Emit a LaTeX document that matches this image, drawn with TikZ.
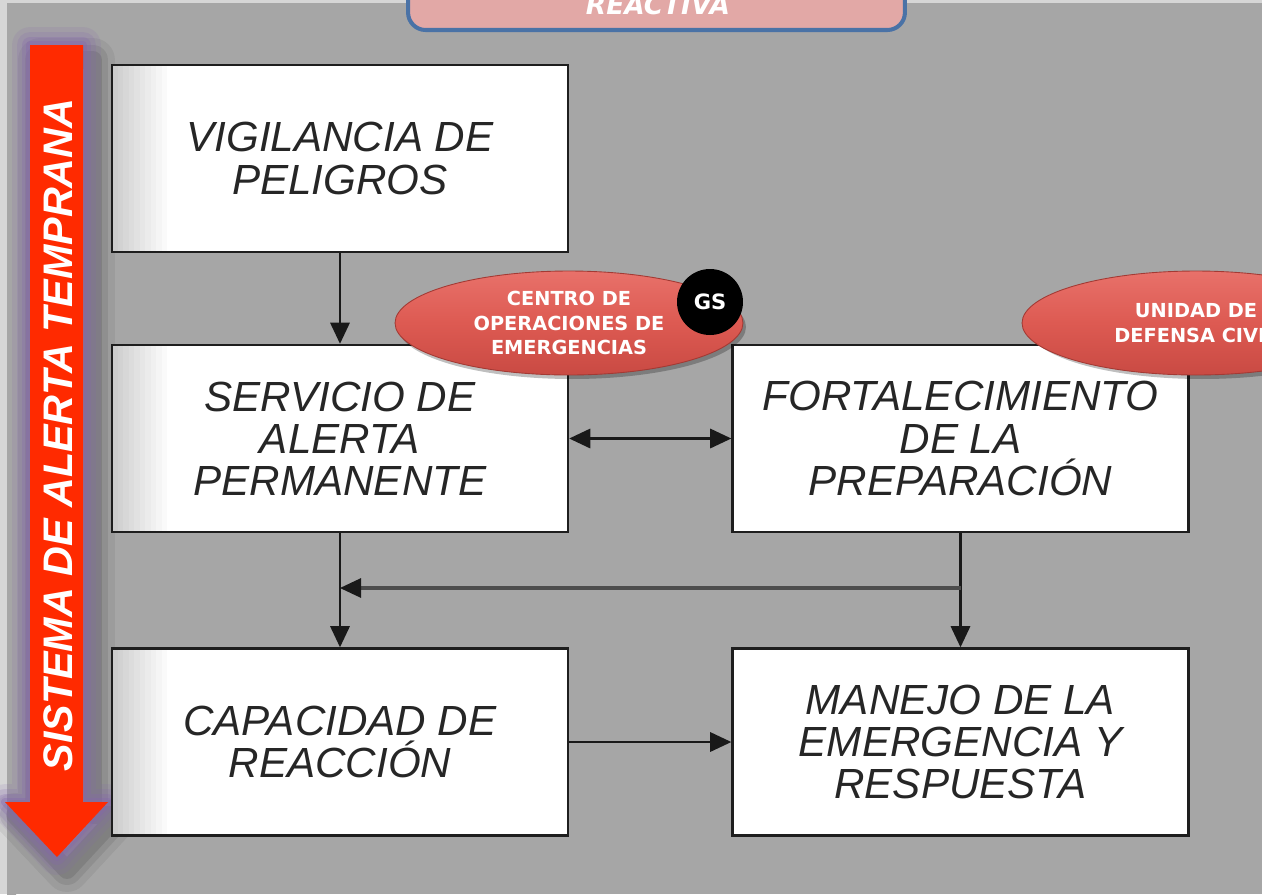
\documentclass[tikz,border=0pt]{standalone}
\usepackage{fontspec}
\setmainfont{Liberation Sans}
\newfontfamily\dejavu{DejaVu Sans}
\usetikzlibrary{arrows.meta,shapes.geometric,calc}
\definecolor{bggray}{HTML}{A6A6A6}
\definecolor{stripgray}{HTML}{D6D6D6}
\definecolor{boxline}{HTML}{1E1E1E}
\definecolor{boxtext}{HTML}{262626}
\definecolor{arrowred}{HTML}{FF2A00}
\definecolor{glowpurple}{HTML}{8466AC}
\definecolor{ellred}{HTML}{DD5A52}
\definecolor{elltop}{HTML}{E8716A}
\definecolor{ellbot}{HTML}{C94A43}
\definecolor{elledge}{HTML}{A33A34}
\definecolor{toppink}{HTML}{E2A8A6}
\definecolor{topblue}{HTML}{4A72A6}
\definecolor{midline}{HTML}{4D4D4D}
\begin{document}
\begin{tikzpicture}[x=0.02cm,y=-0.02cm,
  stepbox/.style={draw=boxline, line width=1.4pt, fill=white,
    minimum width=9.12cm, minimum height=3.74cm, inner sep=0pt,
    align=center, text=boxtext,
    font=\fontsize{24}{24}\selectfont\itshape},
  leftshade/.style={path picture={
    \foreach \i in {1,...,10}{
      \fill[black, opacity=0.018]
        (path picture bounding box.north west) rectangle
        ([xshift=\i*0.11cm]path picture bounding box.south west);}}},
  conn/.style={draw=black!90, line width=1.2pt,
    -{Triangle[length=12pt,width=11pt]}},
  bothconn/.style={draw=black!90, line width=1.2pt,
    {Triangle[length=12pt,width=11pt]}-{Triangle[length=12pt,width=11pt]}},
  joinline/.style={draw=midline, line width=2.6pt},
  redoval/.style={ellipse, draw=elledge, line width=0.5pt,
    top color=elltop, bottom color=ellbot, middle color=ellred,
    minimum width=6.96cm, minimum height=2.08cm, inner sep=0pt,
    align=center, text=white,
    font=\dejavu\bfseries\fontsize{11}{14}\selectfont},
  ovalshadow/.style={ellipse, fill=black, opacity=0.25,
    minimum width=6.96cm, minimum height=2.08cm, inner sep=0pt}
]
\useasboundingbox (0,0) rectangle (1262,894);
\clip (0,0) rectangle (1262,894);

% background
\fill[bggray] (0,0) rectangle (1262,894);
\fill[stripgray] (0,0) rectangle (7,894);
\fill[stripgray] (0,0) rectangle (1262,3);
\shade[left color=black!35, right color=bggray] (7,3) rectangle (16,894);

% soft dark shadow behind the vertical arrow
\foreach \w/\o in {44/0.06, 30/0.08, 18/0.10}{
  \draw[black, line width=\w*0.567pt, opacity=\o, line join=round]
    (40,60) -- (93,60) -- (93,815) -- (118,815) -- (67,870) -- (15,815) -- (40,815) -- cycle;
}
% purple glow
\foreach \w/\o in {36/0.14, 26/0.18, 16/0.25, 8/0.35}{
  \draw[glowpurple, line width=\w*0.567pt, opacity=\o, line join=round]
    (30,45) -- (83,45) -- (83,802) -- (108,802) -- (57,857) -- (5,802) -- (30,802) -- cycle;
}
\fill[arrowred] (30,45) -- (83,45) -- (83,802) -- (108,802) -- (57,857) -- (5,802) -- (30,802) -- cycle;
\node[rotate=90, inner sep=0pt, text=white,
  font=\fontsize{23.5}{23.5}\selectfont\bfseries\itshape] (sat) at (58,435)
  {SISTEMA DE ALERTA TEMPRANA};

% top title box
\node[draw=topblue, fill=toppink, rounded corners=10pt, line width=2.3pt,
  minimum width=9.94cm, minimum height=1.8cm, inner sep=0pt] (title) at (656.5,-15) {};
\node[anchor=base, inner sep=0pt, text=white,
  font=\dejavu\bfseries\itshape\fontsize{15}{15}\selectfont] (reactiva) at (658,14) {REACTIVA};

% boxes
\node[stepbox, leftshade] (vig)  at (340,158.5) {VIGILANCIA DE\\PELIGROS};
\node[stepbox, leftshade] (serv) at (340,438.5) {SERVICIO DE\\ALERTA\\PERMANENTE};
\node[stepbox] (fort) at (960.5,438.5) {FORTALECIMIENTO\\DE LA\\PREPARACIÓN};
\node[stepbox, leftshade] (cap)  at (340,742) {CAPACIDAD DE\\REACCIÓN};
\node[stepbox] (man)  at (960.5,742) {MANEJO DE LA\\EMERGENCIA Y\\RESPUESTA};

% connectors
\draw[conn] (vig.south) -- (serv.north);
\draw[bothconn] (serv.east) -- (fort.west);
\draw[conn] (serv.south) -- (cap.north);
\draw[conn] (fort.south) -- (man.north);
\coordinate (jr) at (960.5,588);
\coordinate (jl) at (340,588);
\draw[joinline] (jr) -- ($(jl)+(18,0)$);
\draw[conn] ($(jl)+(20,0)$) -- (jl);
\draw[conn] (cap.east) -- (man.west);

% ovals
\node[ovalshadow] (coeshadow) at (572,327) {};
\node[redoval] (coe) at (569,323) {CENTRO DE\\OPERACIONES DE\\EMERGENCIAS};
\node[circle, fill=black, minimum size=1.32cm, inner sep=0pt, text=white,
  font=\dejavu\bfseries\fontsize{12}{12}\selectfont] (gs) at (710,302) {GS};
\node[ovalshadow] (udcshadow) at (1202,327) {};
\node[redoval] (udc) at (1196,323) {UNIDAD DE\\DEFENSA CIVIL};
\end{tikzpicture}
\end{document}
